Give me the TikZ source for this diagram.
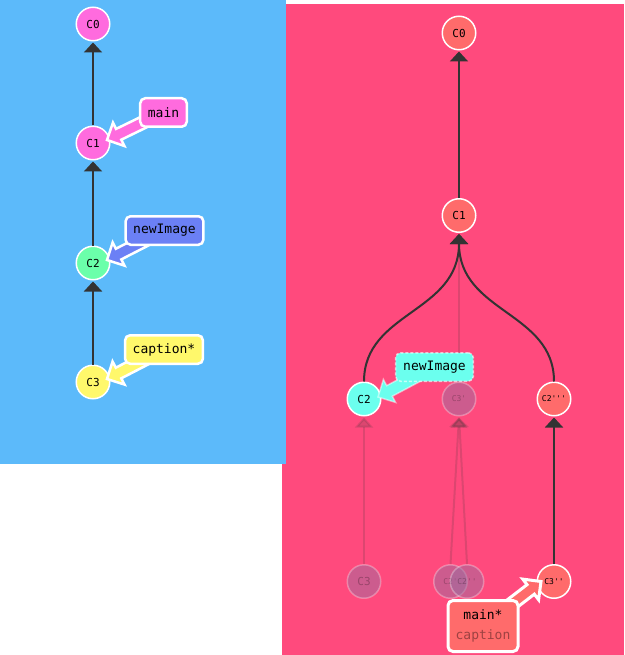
\documentclass[tikz,border=0pt]{standalone}
\usepackage{fontspec}
\setmonofont{DejaVu Sans Mono}
\usetikzlibrary{arrows.meta,calc}
\definecolor{bluebg}{HTML}{5CBAFA}
\definecolor{pinkbg}{HTML}{FF4A7D}
\definecolor{magc}{HTML}{FF6BDE}
\definecolor{greenc}{HTML}{6BFFAA}
\definecolor{yelc}{HTML}{FFF86B}
\definecolor{violc}{HTML}{6B80F5}
\definecolor{redc}{HTML}{FF6B6B}
\definecolor{cyanc}{HTML}{6BFFEE}
\definecolor{darkc}{HTML}{333333}
\definecolor{ghostc}{HTML}{9A6EA0}
\pgfdeclarelayer{front}
\pgfsetlayers{main,front}
\newcommand\blockarrow[3]{%
  \coordinate (ba-h) at ($(#3)!13pt!(#2)$);
  \filldraw[#1] ($(#2)!6pt!90:(#3)$) -- ($(ba-h)!6pt!90:(#3)$) -- ($(ba-h)!13pt!90:(#3)$) -- (#3) -- ($(ba-h)!13pt!-90:(#3)$) -- ($(ba-h)!6pt!-90:(#3)$) -- ($(#2)!6pt!-90:(#3)$) -- cycle;
}
\tikzset{
  commit/.style={circle, minimum size=33.5pt, inner sep=0pt, draw=white, line width=1.5pt, text=black, font=\ttfamily\fontsize{11}{12}\selectfont},
  small/.style={font=\ttfamily\fontsize{8}{9}\selectfont},
  ghost/.style={commit, fill=ghostc, fill opacity=0.5, draw opacity=0.3, text opacity=0.25},
  edge/.style={draw=darkc, line width=2pt, -{Triangle[width=18pt,length=10pt]}, shorten >=1pt},
  ghostedge/.style={edge, opacity=0.17},
  tag/.style={rectangle, rounded corners=5pt, draw=white, line width=2.5pt, inner xsep=7.6pt, inner ysep=0pt, minimum height=28.5pt, text=black, font=\ttfamily\fontsize{13}{15}\selectfont},
  barrow/.style={fill=#1, draw=white, line width=2.5pt, line join=miter},
}
\begin{document}
\begin{tikzpicture}[x=1pt,y=-1pt]
\useasboundingbox (0,0) rectangle (624,655);
% backgrounds
\fill[pinkbg] (282,4) rectangle (624,655);
\fill[bluebg] (0,0) rectangle (286,464);

% left commits
\node[commit, fill=magc] (C0) at (93,24) {C0};
\node[commit, fill=magc] (C1) at (93,143) {C1};
\node[commit, fill=greenc] (C2) at (93,263) {C2};
\node[commit, fill=yelc] (C3) at (93,382) {C3};
\draw[edge] (C1) -- (C0);
\draw[edge] (C2) -- (C1);
\draw[edge] (C3) -- (C2);

% right commits
\node[commit, fill=redc] (rC0) at (459,33) {C0};
\node[commit, fill=redc] (rC1) at (459,215.5) {C1};
\node[commit, fill=cyanc] (rC2) at (364,399) {C2};
\node[ghost, small] (rC3p) at (459,399) {C3'};
\node[commit, fill=redc, small] (rC2ppp) at (554,399) {C2'''};
\node[ghost] (rC3) at (364,581.5) {C3};
\node[ghost, small] (rC2p) at (450.5,581.5) {C2'};
\node[ghost, small] (rC2pp) at (467,581.5) {C2''};
\node[commit, fill=redc, small] (rC3pp) at (554,581.5) {C3''};

% ghost edges
\draw[ghostedge] (rC3p.north) -- (rC1.south);
\draw[ghostedge] (rC3.north) -- (rC2.south);
\draw[ghostedge] (rC2p.north) -- (rC3p.south);
\draw[ghostedge] (rC2pp.north) -- (rC3p.south);
% dark edges
\draw[edge] (rC1) -- (rC0);
\draw[edge] (rC2.north) .. controls +(0,-70) and +(0,80) .. (rC1.south);
\draw[edge] (rC2ppp.north) .. controls +(0,-70) and +(0,80) .. (rC1.south);
\draw[edge] (rC3pp) -- (rC2ppp);

% labels
\begin{pgfonlayer}{front}
\node[tag, fill=magc] (Lmain) at (163.5,112.5) {main};
\node[tag, fill=violc] (Lnew) at (164.5,230.5) {newImage};
\node[tag, fill=yelc] (Lcap) at (164,349.5) {caption*};
\node[tag, fill=cyanc, dashed, dash pattern=on 3pt off 2pt, draw opacity=0.6, line width=1.5pt] (rLnew) at (434.5,367) {newImage};
\node[tag, fill=redc, line width=3pt, align=center, minimum height=51pt, font=\ttfamily\fontsize{13}{20}\selectfont] (rLmain) at (483,626) {main*\\\textcolor{redc!62!black}{caption}};
\end{pgfonlayer}

\coordinate (tmain) at ($(C1)+(14,-3)$);
\coordinate (tnew) at ($(C2)+(14,-3)$);
\coordinate (tcap) at ($(C3)+(14,-3)$);
\coordinate (trnew) at ($(rC2)+(14,-2)$);
\coordinate (trmain) at ($(rC3pp)+(-13,0)$);
\blockarrow{barrow=magc}{Lmain.center}{tmain}
\blockarrow{barrow=violc}{Lnew.center}{tnew}
\blockarrow{barrow=yelc}{Lcap.center}{tcap}
\blockarrow{barrow=cyanc, draw opacity=0.5, line width=1.5pt}{rLnew.center}{trnew}
\blockarrow{barrow=redc, line width=3pt}{rLmain.center}{trmain}
\end{tikzpicture}
\end{document}
